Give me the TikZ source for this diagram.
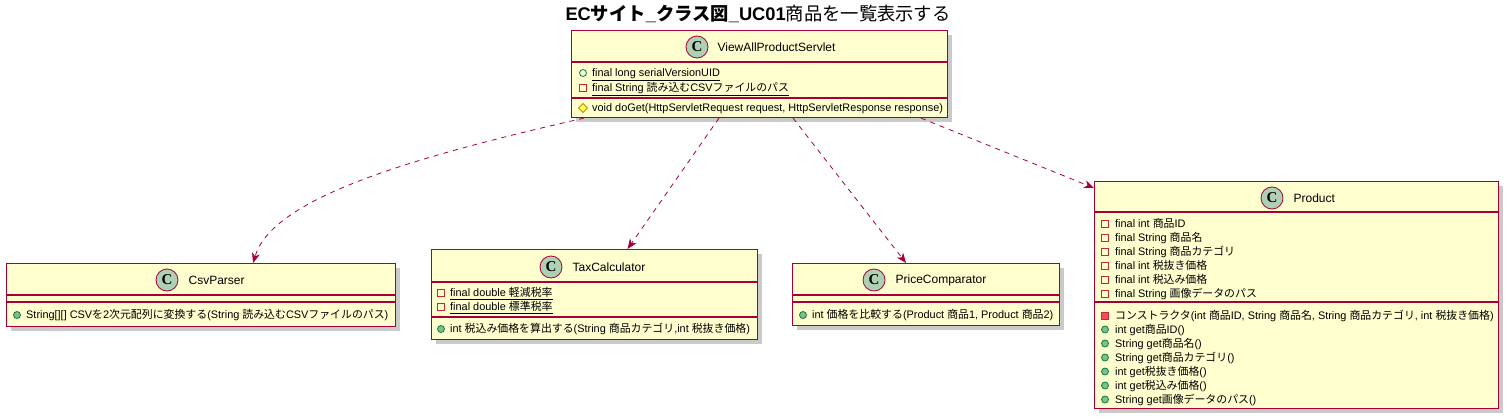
\documentclass[tikz,border=0pt]{standalone}
\usepackage{fontspec}
\usepackage{xcolor}
\setmainfont{Liberation Sans}
\newfontfamily\jpfont{Noto Sans CJK JP}
\newfontfamily\serifC{Liberation Serif}
\usetikzlibrary{positioning,shadows,arrows.meta}

\XeTeXinterchartokenstate=1
\newXeTeXintercharclass\jpclass
\count255="3000
\loop \XeTeXcharclass\count255=\jpclass
  \ifnum\count255<"9FFF \advance\count255 by 1 \repeat
\count255="FF00
\loop \XeTeXcharclass\count255=\jpclass
  \ifnum\count255<"FFEF \advance\count255 by 1 \repeat
\XeTeXinterchartoks 0 \jpclass = {\jpfont}
\XeTeXinterchartoks 4095 \jpclass = {\jpfont}
\XeTeXinterchartoks \jpclass 0 = {\rmfamily}
\XeTeXinterchartoks \jpclass 4095 = {\rmfamily}

\definecolor{umlred}{HTML}{A80036}
\definecolor{umlbg}{HTML}{FEFECE}
\definecolor{umlgreen}{HTML}{ADD1B2}
\definecolor{privred}{HTML}{C82930}
\definecolor{privfill}{HTML}{F24D5C}
\definecolor{pubgreen}{HTML}{038048}
\definecolor{pubfill}{HTML}{84BE84}
\definecolor{protgold}{HTML}{B38D22}
\definecolor{protfill}{HTML}{FFFF44}

\begin{document}
\begin{tikzpicture}[x=1pt,y=-1pt,
    classbox/.style={draw=umlred,line width=1.1pt,fill=umlbg,anchor=north west,inner sep=0pt,
      drop shadow={shadow xshift=4pt,shadow yshift=-4pt,opacity=0.35,fill=black!60}},
    sepline/.style={draw=umlred,line width=1.1pt},
    classicon/.style={circle,draw=umlred,fill=umlgreen,line width=0.8pt,minimum size=22pt,inner sep=0pt,
      font=\serifC\bfseries\fontsize{15}{15}\selectfont},
    classname/.style={inner sep=0pt,font=\fontsize{12}{14}\selectfont},
    member/.style={anchor=west,inner sep=0pt,text height=8.5pt,text depth=1.5pt,font=\fontsize{10.9}{13}\selectfont},
    pubfield/.style={draw=pubgreen,line width=0.8pt},
    pubmethod/.style={draw=pubgreen,fill=pubfill,line width=0.8pt},
    privfield/.style={draw=privred,line width=0.8pt},
    privmethod/.style={draw=privred,fill=privfill,line width=0.8pt},
    protmethod/.style={draw=protgold,fill=protfill,line width=0.8pt},
    dep/.style={draw=umlred,line width=0.8pt,dash pattern=on 5pt off 5pt,
      -{Stealth[length=10pt,width=8pt,inset=3pt]}}]
        \useasboundingbox (0,0) rectangle (1508,418);
        \node[font=\bfseries\fontsize{18.3}{20}\selectfont] (title) at (758,14) {EC\jpfont サイト\rmfamily\_\jpfont クラス図\rmfamily\_UC01{\mdseries 商品を一覧表示する}};

        % ViewAllProductServlet
        \node[classbox,minimum width=376pt,minimum height=87pt] (servlet) at (571,30) {};
        \draw[sepline] (571,62) -- (947,62);
        \draw[sepline] (571,98) -- (947,98);
        \node[classicon] (servletC) at (697,47) {C};
        \node[classname,right=9pt of servletC] (servletN) {ViewAllProductServlet};
        \draw[pubfield] (583,73) circle (3.5pt);
        \node[member] (servletA1) at (592,73) {\underline{final long serialVersionUID}};
        \draw[privfield] (583,88) +(-3.5,-3.5) rectangle +(3.5,3.5);
        \node[member] (servletA2) at (592,88) {\underline{final String 読み込むCSVファイルのパス}};
        \draw[protmethod] (583,108) +(0,-4.5) -- +(4.5,0) -- +(0,4.5) -- +(-4.5,0) -- cycle;
        \node[member] (servletM1) at (592,108) {void doGet(HttpServletRequest request, HttpServletResponse response)};

        % CsvParser
        \node[classbox,minimum width=389pt,minimum height=63pt] (csv) at (6,263) {};
        \draw[sepline] (6,295) -- (395,295);
        \draw[sepline] (6,302) -- (395,302);
        \node[classicon] (csvC) at (167,280) {C};
        \node[classname,right=10pt of csvC] (csvN) {CsvParser};
        \draw[pubmethod] (17,315) circle (3.5pt);
        \node[member] (csvM1) at (26,315) {String[][] CSVを2次元配列に変換する(String 読み込むCSVファイルのパス)};

        % TaxCalculator
        \node[classbox,minimum width=326pt,minimum height=90pt] (tax) at (431,249) {};
        \draw[sepline] (431,282) -- (757,282);
        \draw[sepline] (431,317) -- (757,317);
        \node[classicon] (taxC) at (551,267) {C};
        \node[classname,right=10pt of taxC] (taxN) {TaxCalculator};
        \draw[privfield] (441,293) +(-3.5,-3.5) rectangle +(3.5,3.5);
        \node[member] (taxA1) at (450,293) {\underline{final double 軽減税率}};
        \draw[privfield] (441,307) +(-3.5,-3.5) rectangle +(3.5,3.5);
        \node[member] (taxA2) at (450,307) {\underline{final double 標準税率}};
        \draw[pubmethod] (441,329) circle (3.5pt);
        \node[member] (taxM1) at (450,329) {int 税込み価格を算出する(String 商品カテゴリ,int 税抜き価格)};

        % PriceComparator
        \node[classbox,minimum width=267pt,minimum height=62pt] (price) at (792,263) {};
        \draw[sepline] (792,295) -- (1059,295);
        \draw[sepline] (792,302) -- (1059,302);
        \node[classicon] (priceC) at (874,280) {C};
        \node[classname,right=10pt of priceC] (priceN) {PriceComparator};
        \draw[pubmethod] (803,315) circle (3.5pt);
        \node[member] (priceM1) at (812,315) {int 価格を比較する(Product 商品1, Product 商品2)};

        % Product
        \node[classbox,minimum width=404pt,minimum height=227pt] (product) at (1094,181) {};
        \draw[sepline] (1094,212) -- (1498,212);
        \draw[sepline] (1094,302) -- (1498,302);
        \node[classicon] (productC) at (1272,198) {C};
        \node[classname,right=10pt of productC] (productN) {Product};
        \draw[privfield] (1105,223.5) +(-3.5,-3.5) rectangle +(3.5,3.5);
        \node[member] (productA1) at (1115,223.5) {final int 商品ID};
        \draw[privfield] (1105,237.5) +(-3.5,-3.5) rectangle +(3.5,3.5);
        \node[member] (productA2) at (1115,237.5) {final String 商品名};
        \draw[privfield] (1105,251.5) +(-3.5,-3.5) rectangle +(3.5,3.5);
        \node[member] (productA3) at (1115,251.5) {final String 商品カテゴリ};
        \draw[privfield] (1105,265.5) +(-3.5,-3.5) rectangle +(3.5,3.5);
        \node[member] (productA4) at (1115,265.5) {final int 税抜き価格};
        \draw[privfield] (1105,279.5) +(-3.5,-3.5) rectangle +(3.5,3.5);
        \node[member] (productA5) at (1115,279.5) {final int 税込み価格};
        \draw[privfield] (1105,293.5) +(-3.5,-3.5) rectangle +(3.5,3.5);
        \node[member] (productA6) at (1115,293.5) {final String 画像データのパス};
        \draw[privmethod] (1105,315.5) +(-3.5,-3.5) rectangle +(3.5,3.5);
        \node[member] (productM1) at (1115,315.5) {コンストラクタ(int 商品ID, String 商品名, String 商品カテゴリ, int 税抜き価格)};
        \draw[pubmethod] (1105,329.5) circle (3.5pt);
        \node[member] (productM2) at (1115,329.5) {int get商品ID()};
        \draw[pubmethod] (1105,343.5) circle (3.5pt);
        \node[member] (productM3) at (1115,343.5) {String get商品名()};
        \draw[pubmethod] (1105,357.5) circle (3.5pt);
        \node[member] (productM4) at (1115,357.5) {String get商品カテゴリ()};
        \draw[pubmethod] (1105,371.5) circle (3.5pt);
        \node[member] (productM5) at (1115,371.5) {int get税抜き価格()};
        \draw[pubmethod] (1105,385.5) circle (3.5pt);
        \node[member] (productM6) at (1115,385.5) {int get税込み価格()};
        \draw[pubmethod] (1105,399.5) circle (3.5pt);
        \node[member] (productM7) at (1115,399.5) {String get画像データのパス()};

        % dependencies
        \draw[dep] ([xshift=13pt]servlet.south west) .. controls (400,160) and (272,200) .. ([xshift=52pt]csv.north);
        \draw[dep] ([xshift=148pt]servlet.south west) -- ([xshift=33pt]tax.north);
        \draw[dep] ([xshift=222pt]servlet.south west) -- ([xshift=-20pt]price.north);
        \draw[dep] ([xshift=350pt]servlet.south west) -- ([yshift=-7pt]product.north west);
\end{tikzpicture}
\end{document}
